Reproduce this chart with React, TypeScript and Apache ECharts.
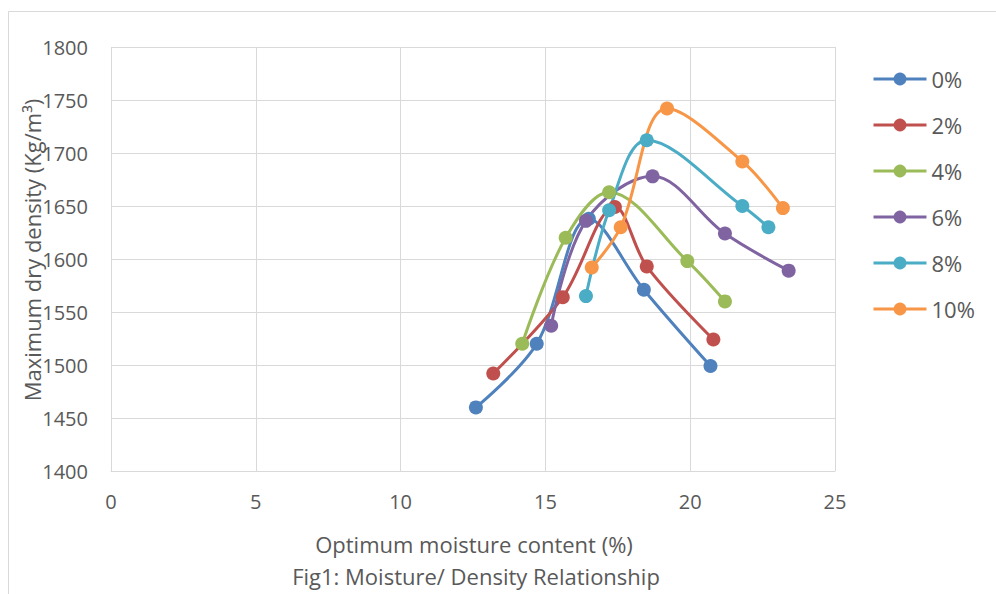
import React, { useEffect, useRef } from "react";
import * as echarts from "echarts";

const seriesNames = ["0%", "2%", "4%", "6%", "8%", "10%"];
const colors = ["#4F81BD", "#C0504D", "#9BBB59", "#8064A2", "#4BACC6", "#F79646"];

const moisture0 = [12.6, 14.7, 16.5, 18.4, 20.7];
const density0 = [1460, 1520, 1638, 1571, 1499];
const moisture2 = [13.2, 15.6, 17.4, 18.5, 20.8];
const density2 = [1492, 1564, 1649, 1593, 1524];
const moisture4 = [14.2, 15.7, 17.2, 19.9, 21.2];
const density4 = [1520, 1620, 1663, 1598, 1560];
const moisture6 = [15.2, 16.4, 18.7, 21.2, 23.4];
const density6 = [1537, 1636, 1678, 1624, 1589];
const moisture8 = [16.4, 17.2, 18.5, 21.8, 22.7];
const density8 = [1565, 1646, 1712, 1650, 1630];
const moisture10 = [16.6, 17.6, 19.2, 21.8, 23.2];
const density10 = [1592, 1630, 1742, 1692, 1648];

const xTitle = "Optimum moisture content (%)";
const yTitle = "Maximum dry density (Kg/m³)";
const caption = "Fig1: Moisture/ Density Relationship";

const allX = [moisture0, moisture2, moisture4, moisture6, moisture8, moisture10];
const allY = [density0, density2, density4, density6, density8, density10];

export default function App() {
  const ref = useRef<HTMLDivElement>(null);
  useEffect(() => {
    if (!ref.current) return;
    const chart = echarts.init(ref.current, null, { renderer: "svg" });
    const font = "'Open Sans', sans-serif";
    const textColor = "#595959";
    const gridColor = "#D9D9D9";
    chart.setOption({
      animation: false,
      backgroundColor: "#FFFFFF",
      grid: { left: 111, right: 161, top: 47, bottom: 123, containLabel: false },
      xAxis: {
        type: "value",
        min: 0,
        max: 25,
        interval: 5,
        axisLine: { show: true, lineStyle: { color: gridColor, width: 1 } },
        axisTick: { show: false },
        axisLabel: { color: textColor, fontSize: 20, fontFamily: font, margin: 20, formatter: (v: number) => String(v) },
        splitLine: { show: true, lineStyle: { color: gridColor, width: 1 } },
      },
      yAxis: {
        type: "value",
        min: 1400,
        max: 1800,
        interval: 50,
        axisLine: { show: false },
        axisTick: { show: false },
        axisLabel: { color: textColor, fontSize: 20, fontFamily: font, margin: 23, formatter: (v: number) => String(v) },
        splitLine: { show: true, lineStyle: { color: gridColor, width: 1 } },
      },
      legend: {
        orient: "vertical",
        left: 872,
        top: 68,
        padding: 0,
        itemWidth: 53,
        itemHeight: 16,
        itemGap: 24,
        lineStyle: { width: 3 },
        textStyle: { color: textColor, fontSize: 22, fontFamily: font },
        data: seriesNames,
      },
      series: seriesNames.map((name, i) => ({
        name,
        type: "line",
        smooth: 0.35,
        symbol: "circle",
        symbolSize: 14,
        color: colors[i],
        lineStyle: { width: 3, color: colors[i] },
        itemStyle: { color: colors[i] },
        data: allX[i].map((x, j) => [x, allY[i][j]]),
      })),
      graphic: [
        { type: "line", shape: { x1: 8.5, y1: 11.5, x2: 996, y2: 11.5 }, style: { stroke: gridColor, lineWidth: 1 } },
        { type: "line", shape: { x1: 8.5, y1: 11.5, x2: 8.5, y2: 594 }, style: { stroke: gridColor, lineWidth: 1 } },
        {
          type: "text",
          x: 32,
          y: 250,
          rotation: Math.PI / 2,
          style: { text: yTitle, fill: textColor, fontSize: 22, fontFamily: font, textAlign: "center", textVerticalAlign: "middle" },
        },
        {
          type: "text",
          x: 474,
          y: 544,
          style: { text: xTitle, fill: textColor, fontSize: 22, fontFamily: font, textAlign: "center", textVerticalAlign: "middle" },
        },
        {
          type: "text",
          x: 476,
          y: 576,
          style: { text: caption, fill: textColor, fontSize: 22, fontFamily: font, textAlign: "center", textVerticalAlign: "middle" },
        },
      ],
    });
    return () => chart.dispose();
  }, []);
  return <div ref={ref} style={{ position: "fixed", left: 0, top: 0, width: 996, height: 594 }} />;
}
